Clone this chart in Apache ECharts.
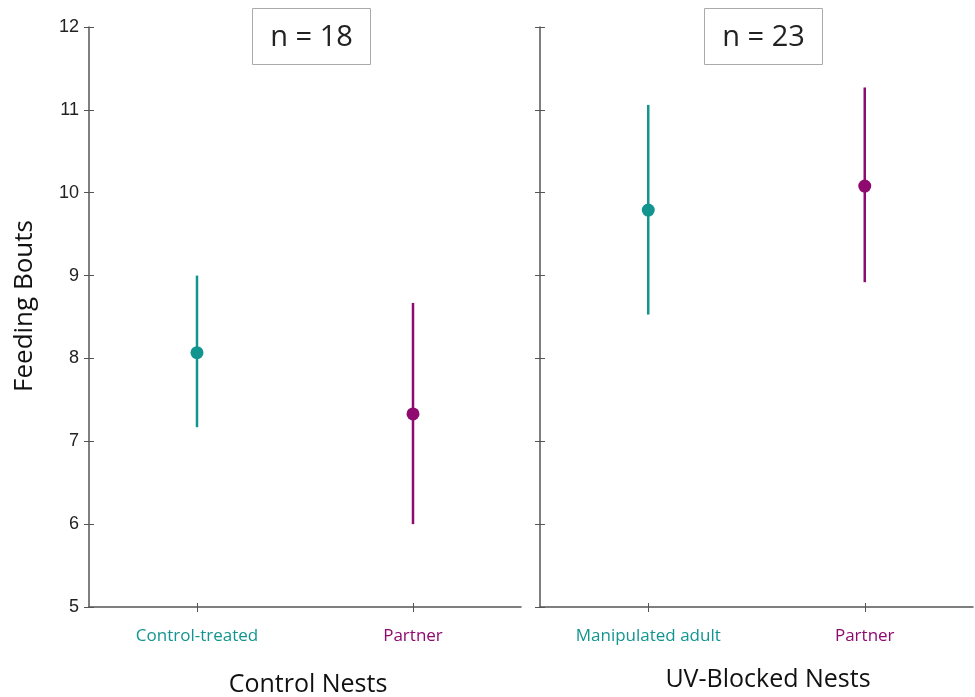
<!DOCTYPE html>
<html>
<head>
<meta charset="utf-8">
<script src="https://cdn.jsdelivr.net/npm/echarts@6/dist/echarts.min.js"></script>
<style>
html,body{margin:0;padding:0;background:#fff;}
#chart{width:975px;height:697px;}
</style>
</head>
<body>
<div id="chart"></div>
<script>
// ---- data ----
const panelTitles = ['Control Nests', 'UV-Blocked Nests'];
const sampleSizes = [18, 23];
const controlCats = ['Control-treated', 'Partner'];
const controlMeans = [8.07, 7.33];
const controlLow = [7.17, 6.0];
const controlHigh = [9.0, 8.67];
const uvCats = ['Manipulated adult', 'Partner'];
const uvMeans = [9.79, 10.08];
const uvLow = [8.53, 8.92];
const uvHigh = [11.06, 11.27];
const yMin = 5, yMax = 12, yStep = 1;
const yAxisTitle = 'Feeding Bouts';

// ---- style ----
const pointColors = ['#13958f', '#8e0a6f'];
const axisColor = '#555';
const grids = [
  {left: 89, top: 27, width: 432, height: 580},
  {left: 540, top: 27, width: 433, height: 580}
];

const chart = echarts.init(document.getElementById('chart'));

function xAxisFor(gi, cats) {
  return {
    type: 'category', gridIndex: gi, data: cats, boundaryGap: true, position: 'bottom',
    axisLine: {lineStyle: {color: axisColor, width: 1.5}},
    axisTick: {show: true, alignWithLabel: true, length: 5, lineStyle: {color: axisColor, width: 1}},
    axisLabel: {margin: 21, fontFamily: 'Open Sans', fontSize: 17,
      color: (v, i) => pointColors[i % 2]}
  };
}
function xAxisInner(gi, cats) {
  return {
    type: 'category', gridIndex: gi, data: cats, boundaryGap: true, position: 'bottom',
    axisLine: {show: false},
    axisTick: {show: true, inside: true, alignWithLabel: true, length: 4, lineStyle: {color: axisColor, width: 1}},
    axisLabel: {show: false}
  };
}
function yAxisFor(gi, showLabels, inside) {
  return {
    type: 'value', gridIndex: gi, min: yMin, max: yMax, interval: yStep, position: 'left',
    splitLine: {show: false},
    axisLine: {show: !inside, lineStyle: {color: axisColor, width: 1.5}},
    axisTick: {show: true, inside: inside, length: 5, lineStyle: {color: axisColor, width: 1}},
    axisLabel: {show: showLabels && !inside, margin: 10, fontFamily: 'Liberation Sans', fontSize: 18, color: '#222'}
  };
}

function errSeries(xi, yi, lows, highs) {
  return {
    type: 'custom', xAxisIndex: xi, yAxisIndex: yi,
    data: lows.map((l, i) => [i, l, highs[i]]),
    renderItem: (params, api) => {
      const p1 = api.coord([api.value(0), api.value(1)]);
      const p2 = api.coord([api.value(0), api.value(2)]);
      return {type: 'line', shape: {x1: p1[0], y1: p1[1], x2: p2[0], y2: p2[1]},
        style: {stroke: pointColors[params.dataIndex % 2], lineWidth: 2.5}};
    },
    z: 2
  };
}
function pointSeries(xi, yi, means) {
  return {
    type: 'scatter', xAxisIndex: xi, yAxisIndex: yi,
    data: means.map((m, i) => [i, m]),
    symbolSize: 13,
    itemStyle: {color: p => pointColors[p.dataIndex % 2], opacity: 1},
    z: 3
  };
}

function nBox(cx, n) {
  return {
    type: 'group', left: cx - 59, top: 8,
    children: [
      {type: 'rect', shape: {x: 0, y: 0, width: 118, height: 56},
        style: {fill: '#fff', stroke: '#aaa', lineWidth: 1}},
      {type: 'text', x: 59, y: 29,
        style: {text: 'n = ' + n, fontFamily: 'Open Sans', fontSize: 29, fill: '#222',
          textAlign: 'center', textVerticalAlign: 'middle'}}
    ]
  };
}

chart.setOption({
  backgroundColor: '#fff',
  animation: false,
  grid: grids,
  xAxis: [xAxisFor(0, controlCats), xAxisFor(1, uvCats), xAxisInner(0, controlCats), xAxisInner(1, uvCats)],
  yAxis: [yAxisFor(0, true, false), yAxisFor(1, false, false), yAxisFor(0, false, true), yAxisFor(1, false, true)],
  series: [
    errSeries(0, 0, controlLow, controlHigh),
    pointSeries(0, 0, controlMeans),
    errSeries(1, 1, uvLow, uvHigh),
    pointSeries(1, 1, uvMeans)
  ],
  graphic: [
    nBox(311, sampleSizes[0]),
    nBox(763, sampleSizes[1]),
    {type: 'text', x: 308, y: 685,
      style: {text: panelTitles[0], fontFamily: 'Open Sans', fontSize: 25, fill: '#111',
        textAlign: 'center', textVerticalAlign: 'middle'}},
    {type: 'text', x: 768, y: 680,
      style: {text: panelTitles[1], fontFamily: 'Open Sans', fontSize: 25, fill: '#111',
        textAlign: 'center', textVerticalAlign: 'middle'}},
    {type: 'text', x: 25, y: 306, rotation: Math.PI / 2,
      style: {text: yAxisTitle, fontFamily: 'Open Sans', fontSize: 26, fill: '#111',
        textAlign: 'center', textVerticalAlign: 'middle'}}
  ]
});
</script>
</body>
</html>
